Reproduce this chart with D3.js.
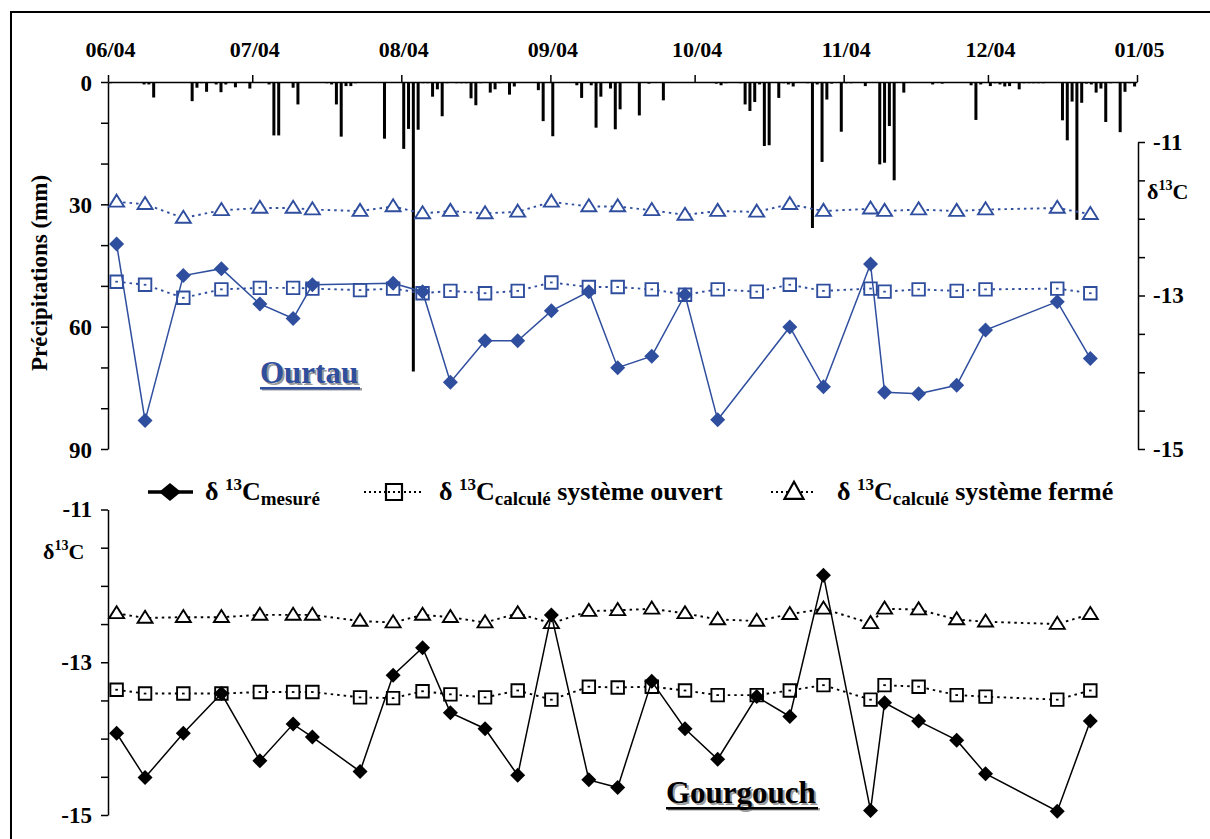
<!DOCTYPE html>
<html><head><meta charset="utf-8">
<script src="https://cdn.jsdelivr.net/npm/d3@7"></script>
<style>
body{margin:0;background:#fff}
svg{display:block}
text{font-family:"Liberation Serif","Times New Roman",serif;font-weight:bold;fill:#000}
</style>
</head><body>
<svg id="chart" width="1210" height="839" font-family="Liberation Serif, serif"></svg>
<script>
// ---------------- DATA ----------------
const periodStart = "2004-06-01";
const periodEnd = "2005-01-01";
const precipTicks = [0,10,20,30,40,50,60,70,80,90];
const precipLabels = [0,30,60,90];
const deltaTicks = [-11,-11.5,-12,-12.5,-13,-13.5,-14,-14.5,-15];
const deltaLabels = [-11,-13,-15];

// daily precipitation (day offset from 1 June 2004, mm)
const rainDay = [0,7,8,9,10,17,18,19,20,22,23,24,26,29,33,34,35,36,37,38,39,40,45,46,47,48,49,50,51,57,58,
  61,62,63,64,65,66,67,68,69,70,72,73,74,75,76,77,79,80,81,83,84,89,90,92,93,94,95,97,98,100,101,102,104,105,106,
  110,112,115,124,126,127,128,131,132,133,134,135,136,137,139,140,141,142,145,146,147,148,149,150,152,153,154,157,
  160,161,162,163,165,166,171,173,179,180,181,183,184,185,186,187,188,189,190,191,192,193,194,198,199,200,201,202,
  203,204,205,206,207,208,210,211,212,213];
const rainMm = [0.3,0.6,0.6,3.8,0.2,4.7,1.4,0.3,2.4,0.6,2.5,0.6,1.3,1.6,0.6,13.1,13.1,0.2,0.2,1.4,5.5,0.2,0.3,0.6,5.5,13.4,1.0,1.0,0.3,13.9,0.2,
  16.4,11.5,71,11.7,0.3,0.3,3.6,1.8,8.4,0.3,0.3,0.3,0.3,4.0,5.7,0.3,2.6,1.8,0.3,3.1,1.1,2.0,9.6,13.3,0.2,0.2,0.2,0.8,3.9,0.8,11.2,3.6,1.6,11.6,6.7,
  8.2,0.4,4.5,0.2,0.4,0.8,0.3,0.3,5.5,7.1,4.9,0.6,15.7,15.5,3.9,0.3,0.6,1.1,0.3,35.8,0.6,19.6,4.3,0.4,12.2,0.3,0.3,1.0,
  20.2,19.8,10.8,24.1,2.6,0.2,0.6,0.4,0.8,9.3,0.6,1.0,0.3,0.6,1.1,1.0,0.2,1.8,0.3,0.3,0.3,0.3,0.3,9.4,14.3,4.8,33.8,5.1,
  0.4,0.6,2.6,1.6,9.8,0.3,12.3,2.4,0.3,1.1];

// sampling dates
const sampleDates = ["2004-06-02 19:00","2004-06-08 17:00","2004-06-16 16:00","2004-06-24 14:00","2004-07-02 14:00",
  "2004-07-09 12:00","2004-07-13 12:00","2004-07-23 10:00","2004-07-30 07:00","2004-08-05 10:00","2004-08-11 05:00",
  "2004-08-18 10:00","2004-08-25 05:00","2004-09-01 05:00","2004-09-09 00:00","2004-09-15 00:00","2004-09-22 02:00",
  "2004-09-29 00:00","2004-10-05 19:00","2004-10-13 22:00","2004-10-20 19:00","2004-10-27 19:00","2004-11-06 14:00",
  "2004-11-09 12:00","2004-11-16 14:00","2004-11-24 12:00","2004-11-30 12:00","2004-12-15 10:00","2004-12-22 07:00"];

// Ourtau
const ourtauMesure = [-12.33,-14.63,-12.74,-12.65,-13.11,-13.30,-12.86,null,-12.84,-12.95,-14.13,-13.59,-13.59,-13.20,-12.95,
  -13.94,-13.79,-12.99,-14.62,null,-13.41,-14.19,-12.59,-14.26,-14.28,-14.17,-13.45,-13.08,-13.82];
const ourtauOuvert = [-12.82,-12.86,-13.03,-12.92,-12.90,-12.90,-12.91,-12.93,-12.91,-12.97,-12.94,-12.97,-12.94,-12.83,-12.89,
  -12.89,-12.92,-12.99,-12.92,-12.95,-12.86,-12.94,-12.91,-12.95,-12.92,-12.94,-12.92,-12.91,-12.97];
const ourtauFerme = [-11.78,-11.81,-11.99,-11.89,-11.86,-11.86,-11.88,-11.90,-11.84,-11.93,-11.90,-11.93,-11.91,-11.78,-11.84,
  -11.84,-11.89,-11.95,-11.90,-11.91,-11.81,-11.90,-11.87,-11.90,-11.88,-11.90,-11.88,-11.86,-11.94];

// Gourgouch
const gourgMesure = [-13.93,-14.51,-13.93,-13.41,-14.29,-13.81,-13.98,-14.43,-13.17,-12.81,-13.66,-13.87,-14.48,-12.38,-14.54,
  -14.64,-13.25,-13.87,-14.27,-13.45,-13.71,-11.86,-14.94,-13.53,-13.77,-14.02,-14.46,-14.95,-13.77];
const gourgOuvert = [-13.36,-13.41,-13.41,-13.41,-13.39,-13.39,-13.39,-13.46,-13.47,-13.38,-13.42,-13.46,-13.37,-13.49,-13.32,
  -13.33,-13.32,-13.37,-13.43,-13.43,-13.37,-13.30,-13.49,-13.30,-13.32,-13.43,-13.45,-13.49,-13.37];
const gourgFerme = [-12.36,-12.42,-12.41,-12.41,-12.38,-12.38,-12.38,-12.46,-12.48,-12.38,-12.41,-12.48,-12.36,-12.49,-12.33,
  -12.32,-12.30,-12.36,-12.44,-12.46,-12.37,-12.30,-12.49,-12.30,-12.31,-12.44,-12.47,-12.50,-12.37];

const legendLabels = [
  {main:"δ ", sup:"13", c:"C", sub:"mesuré", rest:""},
  {main:"δ ", sup:"13", c:"C", sub:"calculé", rest:" système ouvert"},
  {main:"δ ", sup:"13", c:"C", sub:"calculé", rest:" système fermé"}
];

// ---------------- DRAWING ----------------
const FONT = '"Liberation Serif","Times New Roman",serif';
const BLUE = "#2F4E9E";
const svg = d3.select("#chart");
const parseDay = d3.timeParse("%Y-%m-%d");
const parseTime = d3.timeParse("%Y-%m-%d %H:%M");
const t0 = parseDay(periodStart), t1 = parseDay(periodEnd);
const dates = sampleDates.map(parseTime);

const x = d3.scaleTime().domain([t0, t1]).range([108, 1137]);
const yPrec = d3.scaleLinear().domain([0, 90]).range([82, 449]);
const yTop = d3.scaleLinear().domain([-11, -15]).range([142, 449]);
const yBot = d3.scaleLinear().domain([-11, -15]).range([509.5, 815]);

// frame
svg.append("path").attr("d","M11,839V12H1210").attr("fill","none").attr("stroke","#000").attr("stroke-width",2);

// precipitation bars
const bars = svg.append("g");
rainDay.forEach((d,i)=>{
  const a = d3.timeDay.offset(t0, d), b = d3.timeDay.offset(t0, d+1);
  const cx = (x(a)+x(b))/2;
  bars.append("rect").attr("x", cx-1.5).attr("width",3)
    .attr("y", yPrec(0)).attr("height", yPrec(rainMm[i]) - yPrec(0)).attr("fill","#000");
});

function styleAxis(g, fs){
  g.attr("font-family", FONT);
  g.select(".domain").attr("stroke","#000").attr("stroke-width",1.5);
  g.selectAll(".tick line").attr("stroke","#000").attr("stroke-width",1.5);
  g.selectAll(".tick text").attr("font-size",fs).attr("font-family",FONT).attr("font-weight","bold").attr("fill","#000");
}

// top time axis
const gx = svg.append("g").attr("transform","translate(0,82)")
  .call(d3.axisTop(x).ticks(d3.timeMonth.every(1)).tickFormat(d3.timeFormat("%m/%y")).tickSize(7).tickSizeOuter(0).tickPadding(18));
styleAxis(gx, 22);
gx.selectAll(".tick text").attr("dx", 2);

// left precipitation axis
const gp = svg.append("g").attr("transform","translate(108,0)")
  .call(d3.axisLeft(yPrec).tickValues(precipTicks).tickFormat(d=>precipLabels.includes(d)?d:"").tickSize(7).tickSizeOuter(0).tickPadding(9));
styleAxis(gp, 23);
gp.selectAll(".tick text").attr("dy","0.36em");

// right delta axis (top)
const gr = svg.append("g").attr("transform","translate(1138,0)")
  .call(d3.axisRight(yTop).tickValues(deltaTicks).tickFormat(d=>deltaLabels.includes(d)?d:"").tickSize(7).tickSizeOuter(0).tickPadding(8));
styleAxis(gr, 23);

// bottom left delta axis
const gb = svg.append("g").attr("transform","translate(108,0)")
  .call(d3.axisLeft(yBot).tickValues(deltaTicks).tickFormat(d=>deltaLabels.includes(d)?d:"").tickSize(7).tickSizeOuter(0).tickPadding(9));
styleAxis(gb, 23);

// axis titles
svg.append("text").attr("transform","translate(47,273) rotate(-90)").attr("text-anchor","middle")
  .attr("font-family",FONT).attr("font-size",23).text("Précipitations (mm)");
function deltaTitle(xp, yp){
  const t = svg.append("text").attr("x",xp).attr("y",yp).attr("font-size",22).attr("font-family",FONT);
  t.append("tspan").text("δ");
  t.append("tspan").attr("font-size",14).attr("dy",-9).text("13");
  t.append("tspan").attr("dy",9).text("C");
}
deltaTitle(1147, 199);
deltaTitle(43, 559);

// markers
const diamond = (r)=>`M0,${-r}L${r},0L0,${r}L${-r},0Z`;
const triangle = (w,h)=>`M0,${-h*0.6}L${w/2},${h*0.4}L${-w/2},${h*0.4}Z`;
const square = (s)=>`M${-s/2},${-s/2}h${s}v${s}h${-s}Z`;

function drawPanel(y, mes, ouv, fer, color){
  const g = svg.append("g");
  const line = d3.line().defined(d=>d[1]!==null).x(d=>x(d[0])).y(d=>y(d[1]));
  const ser = arr => dates.map((d,i)=>[d, arr[i]]);
  [fer, ouv].forEach(arr=>{
    g.append("path").attr("d", line(ser(arr))).attr("fill","none").attr("stroke",color)
      .attr("stroke-width",1.9).attr("stroke-dasharray","2.5,4");
  });
  // triangles
  ser(fer).forEach(p=>{
    g.append("path").attr("d",triangle(15,12)).attr("transform",`translate(${x(p[0])},${y(p[1])})`)
      .attr("fill","#fff").attr("stroke",color).attr("stroke-width",1.9);
  });
  // squares
  ser(ouv).forEach(p=>{
    const gg = g.append("g").attr("transform",`translate(${x(p[0])},${y(p[1])})`);
    gg.append("path").attr("d",square(12.5)).attr("fill","#fff").attr("stroke",color).attr("stroke-width",1.9);
    gg.append("rect").attr("x",-1.3).attr("y",-0.9).attr("width",2.6).attr("height",1.8).attr("fill",color);
  });
  // measured
  const m = ser(mes).filter(d=>d[1]!==null);
  g.append("path").attr("d", line(m)).attr("fill","none").attr("stroke",color).attr("stroke-width",1.5);
  m.forEach(p=>{
    g.append("path").attr("d",diamond(7.5)).attr("transform",`translate(${x(p[0])},${y(p[1])})`).attr("fill",color);
  });
}
drawPanel(yTop, ourtauMesure, ourtauOuvert, ourtauFerme, BLUE);
drawPanel(yBot, gourgMesure, gourgOuvert, gourgFerme, "#000");

// station labels
function station(txt, xp, yp, color, w){
  svg.append("text").attr("x",xp+2).attr("y",yp+2).attr("font-size",31).attr("font-family",FONT).style("fill","#9a9a9a").text(txt);
  svg.append("rect").attr("x",xp+2).attr("y",yp+5).attr("width",w).attr("height",2.5).attr("fill","#9a9a9a");
  svg.append("text").attr("x",xp).attr("y",yp).attr("font-size",31).attr("font-family",FONT).style("fill",color).text(txt);
  svg.append("rect").attr("x",xp).attr("y",yp+4).attr("width",w).attr("height",2.5).attr("fill",color);
}
station("Ourtau", 260, 383, BLUE, 100);
station("Gourgouch", 666, 803, "#000", 152);

// legend
const legY = 492;
const legItems = [
  {x0:148, x1:193, mx:170, type:"d", text:205},
  {x0:364, x1:424, mx:394, type:"s", text:439},
  {x0:771, x1:816, mx:794, type:"t", text:837}
];
legItems.forEach((it,i)=>{
  const g = svg.append("g");
  if(it.type==="d"){
    g.append("line").attr("x1",it.x0).attr("x2",it.x1).attr("y1",legY).attr("y2",legY).attr("stroke","#000").attr("stroke-width",3.5);
    g.append("path").attr("d","M0,-9L11,0L0,9L-11,0Z").attr("transform",`translate(${it.mx},${legY})`).attr("fill","#000");
  } else {
    g.append("line").attr("x1",it.x0).attr("x2",it.x1).attr("y1",legY).attr("y2",legY).attr("stroke","#000")
      .attr("stroke-width",2).attr("stroke-dasharray","2,3");
    if(it.type==="s"){
      g.append("path").attr("d",square(16)).attr("transform",`translate(${it.mx},${legY})`).attr("fill","#fff").attr("stroke","#000").attr("stroke-width",2.2);
      g.append("line").attr("x1",it.mx-6).attr("x2",it.mx+6).attr("y1",legY).attr("y2",legY).attr("stroke","#000").attr("stroke-width",2).attr("stroke-dasharray","2,3");
    } else {
      g.append("path").attr("d",triangle(19,17)).attr("transform",`translate(${it.mx},${legY})`).attr("fill","#fff").attr("stroke","#000").attr("stroke-width",2.2);
    }
  }
  const L = legendLabels[i];
  const t = g.append("text").attr("x",it.text).attr("y",500).attr("font-size",26).attr("font-family",FONT);
  t.append("tspan").text(L.main);
  t.append("tspan").attr("font-size",17).attr("dy",-10).text(L.sup);
  t.append("tspan").attr("dy",10).text(L.c);
  t.append("tspan").attr("font-size",19).attr("dy",5).text(L.sub);
  if(L.rest) t.append("tspan").attr("dy",-5).text(L.rest);
});
</script>
</body></html>
